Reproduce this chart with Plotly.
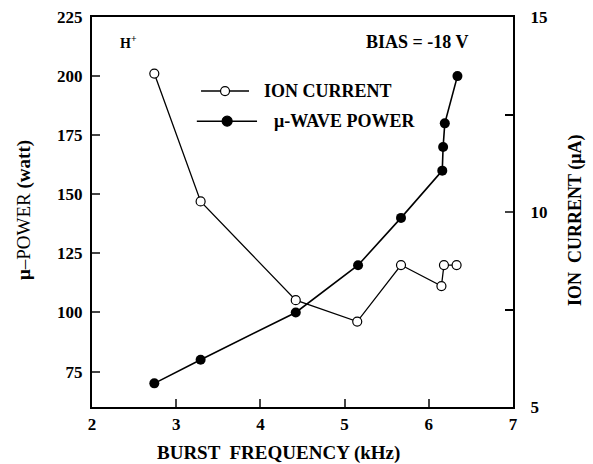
import plotly.graph_objects as go

# Burst frequency (kHz) and measured quantities
freq_power = [2.74, 3.29, 4.42, 5.16, 5.67, 6.16, 6.17, 6.19, 6.34]
mw_power = [70, 80, 100, 120, 140, 160, 170, 180, 200]          # watt

freq_ion = [2.74, 3.29, 4.42, 5.15, 5.67, 6.15, 6.18, 6.33]
ion_current = [13.55, 10.27, 7.74, 7.19, 8.64, 8.10, 8.64, 8.64]  # μA

x_ticks = [2, 3, 4, 5, 6, 7]
left_ticks = [75, 100, 125, 150, 175, 200, 225]
right_ticks = [5, 10, 15]


def bold(values):
    return ["<b>%g</b>" % v for v in values]


FONT = "Liberation Serif"
PLOT_W, PLOT_H = 421, 390

fig = go.Figure()

fig.add_trace(go.Scatter(
    x=freq_power, y=mw_power, mode="lines+markers", name="μ-WAVE POWER",
    line=dict(color="black", width=1.6),
    marker=dict(symbol="circle", size=10, color="black"),
    yaxis="y", showlegend=False,
))
fig.add_trace(go.Scatter(
    x=freq_ion, y=ion_current, mode="lines+markers", name="ION CURRENT",
    line=dict(color="black", width=1.3),
    marker=dict(symbol="circle", size=9, color="white",
                line=dict(color="black", width=1.2)),
    yaxis="y2", showlegend=False,
))

tickfont = dict(family=FONT, size=17, color="black", weight="bold")

fig.update_layout(
    width=593, height=464,
    margin=dict(l=92, r=80, t=17, b=57),
    paper_bgcolor="white", plot_bgcolor="white",
    font=dict(family=FONT, color="black"),
    xaxis=dict(
        range=[2, 7], tickvals=x_ticks, ticktext=bold(x_ticks),
        ticks="inside", ticklen=8, tickwidth=2, ticklabelstandoff=0,
        showline=True, linewidth=2.2, linecolor="black", mirror=True,
        showgrid=False, zeroline=False, tickfont=tickfont, automargin=False,
    ),
    yaxis=dict(
        range=[60, 225], tickvals=left_ticks, ticktext=bold(left_ticks),
        ticks="inside", ticklen=8, tickwidth=2, ticklabelstandoff=4,
        showline=True, linewidth=2.2, linecolor="black",
        showgrid=False, zeroline=False, tickfont=tickfont, automargin=False,
    ),
    yaxis2=dict(
        range=[5, 15], tickvals=right_ticks, ticktext=bold(right_ticks),
        ticks="inside", ticklen=8, tickwidth=2, ticklabelstandoff=12,
        minor=dict(dtick=2.5, ticks="inside", ticklen=8, tickwidth=2,
                   tickcolor="black", showgrid=False),
        overlaying="y", side="right",
        showline=True, linewidth=2.2, linecolor="black",
        showgrid=False, zeroline=False, tickfont=tickfont, automargin=False,
    ),
)


def px_x(px):
    return (px - 92) / PLOT_W


def px_y(px):
    return 1 - (px - 17) / PLOT_H


# Axis titles
fig.add_annotation(xref="paper", yref="paper", x=px_x(278), y=px_y(453),
                   text="<b>BURST  FREQUENCY (kHz)</b>", showarrow=False,
                   xanchor="center", yanchor="middle",
                   font=dict(family=FONT, size=19, color="black"))
fig.add_annotation(xref="paper", yref="paper", x=px_x(24), y=px_y(210),
                   text="<b>μ</b>–POWER <b>(watt)</b>", showarrow=False,
                   textangle=-90, xanchor="center", yanchor="middle",
                   font=dict(family=FONT, size=19, color="black"))
fig.add_annotation(xref="paper", yref="paper", x=px_x(575), y=px_y(221),
                   text="<b>ION  CURRENT (μA)</b>", showarrow=False,
                   textangle=-90, xanchor="center", yanchor="middle",
                   font=dict(family=FONT, size=18, color="black"))

# Legend drawn inside the frame
legend_rows = [
    dict(label="ION CURRENT", y=0.810, x0=0.259, x1=0.373, xm=0.316,
         tx=0.404, fill="white", size=9),
    dict(label="μ-WAVE POWER", y=0.733, x0=0.249, x1=0.392, xm=0.321,
         tx=0.428, fill="black", size=10),
]
for row in legend_rows:
    fig.add_shape(type="line", xref="paper", yref="paper",
                  x0=row["x0"], x1=row["x1"], y0=row["y"], y1=row["y"],
                  line=dict(color="black", width=1.5))
    r_x = row["size"] / 2 / PLOT_W
    r_y = row["size"] / 2 / PLOT_H
    fig.add_shape(type="circle", xref="paper", yref="paper",
                  x0=row["xm"] - r_x, x1=row["xm"] + r_x,
                  y0=row["y"] - r_y, y1=row["y"] + r_y,
                  fillcolor=row["fill"], line=dict(color="black", width=1.2))
    fig.add_annotation(xref="paper", yref="paper", x=row["tx"], y=row["y"],
                       text="<b>%s</b>" % row["label"], showarrow=False,
                       xanchor="left", yanchor="middle",
                       font=dict(family=FONT, size=18, color="black"))

fig.add_annotation(xref="paper", yref="paper", x=0.062, y=0.935,
                   text="<b>H<sup>+</sup></b>", showarrow=False, xanchor="left",
                   yanchor="middle",
                   font=dict(family=FONT, size=14, color="black"))
fig.add_annotation(xref="paper", yref="paper", x=0.645, y=0.935,
                   text="<b>BIAS = -18 V</b>", showarrow=False, xanchor="left",
                   yanchor="middle",
                   font=dict(family=FONT, size=18, color="black"))

fig.write_html("out.html")
